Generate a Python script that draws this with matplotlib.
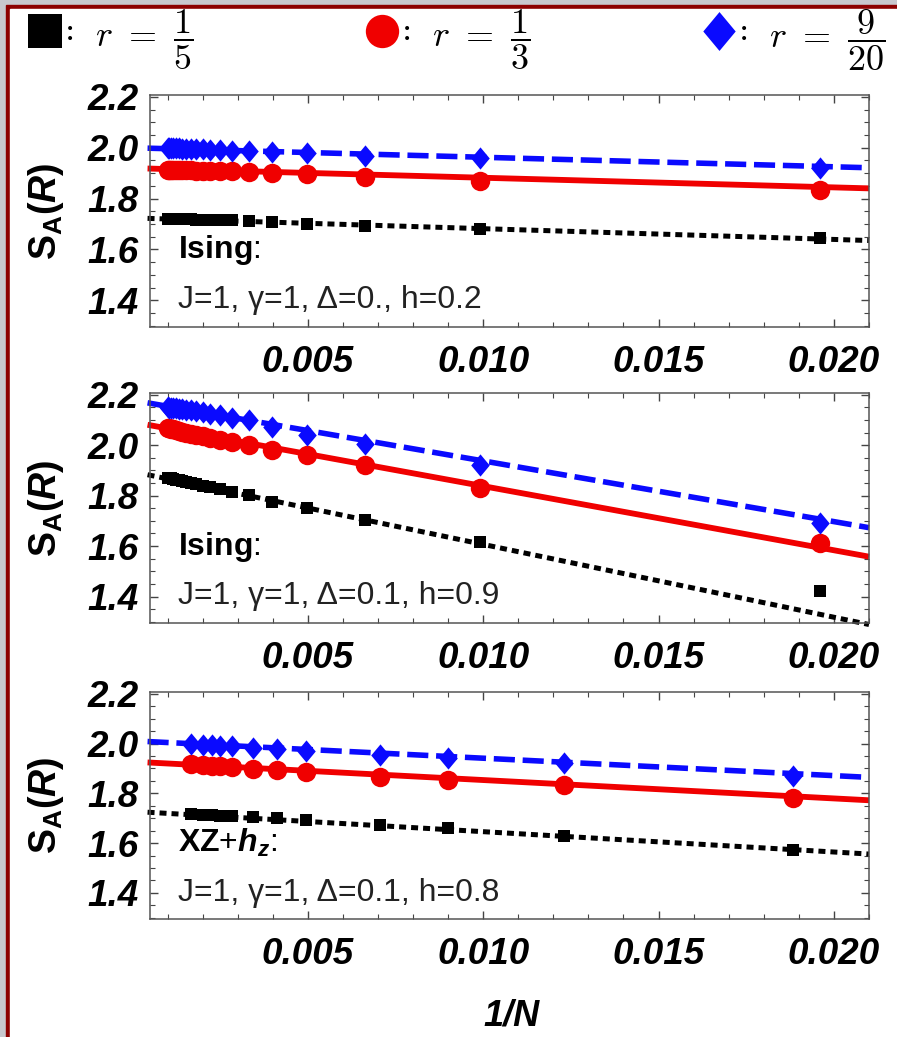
import matplotlib
matplotlib.use('Agg')
import matplotlib.pyplot as plt
from matplotlib.patches import Rectangle
from matplotlib.path import Path
from matplotlib.ticker import MultipleLocator, FormatStrFormatter

# 1/N positions
x_ising = [0.0196, 0.0099, 0.00662, 0.00498, 0.00398, 0.00332, 0.00285, 0.00249, 0.00222, 0.0020,
           0.00181, 0.00166, 0.00153, 0.00142, 0.00133, 0.00125, 0.00117, 0.00111, 0.00105, 0.0010]
x_xz = [0.01883, 0.0123, 0.009, 0.00707, 0.00495, 0.00413, 0.00345, 0.00285, 0.0025, 0.00228, 0.002, 0.00166]

# panel 1: Ising, h=0.2
p1_r15 = [1.643, 1.680, 1.694, 1.700, 1.708, 1.712, 1.714, 1.715, 1.716, 1.717,
          1.717, 1.718, 1.718, 1.718, 1.719, 1.719, 1.719, 1.720, 1.720, 1.720]
p1_r13 = [1.835, 1.870, 1.885, 1.898, 1.902, 1.905, 1.907, 1.908, 1.909, 1.910,
          1.910, 1.911, 1.911, 1.912, 1.912, 1.912, 1.913, 1.913, 1.913, 1.914]
p1_r920 = [1.920, 1.960, 1.968, 1.978, 1.982, 1.986, 1.988, 1.990, 1.992, 1.993,
           1.994, 1.995, 1.996, 1.996, 1.997, 1.997, 1.998, 1.998, 1.999, 1.999]

# panel 2: Ising, h=0.9
p2_r15 = [1.420, 1.618, 1.705, 1.752, 1.776, 1.804, 1.815, 1.826, 1.833, 1.840,
          1.846, 1.851, 1.855, 1.858, 1.861, 1.864, 1.866, 1.868, 1.870, 1.871]
p2_r13 = [1.614, 1.832, 1.923, 1.962, 1.982, 2.000, 2.012, 2.022, 2.030, 2.036,
          2.041, 2.046, 2.050, 2.054, 2.057, 2.060, 2.063, 2.065, 2.067, 2.070]
p2_r920 = [1.693, 1.923, 2.006, 2.042, 2.073, 2.098, 2.108, 2.118, 2.125, 2.130,
           2.135, 2.138, 2.141, 2.143, 2.145, 2.146, 2.147, 2.148, 2.149, 2.150]

# panel 3: XZ+h_z, h=0.8
p3_r15 = [1.572, 1.628, 1.660, 1.672, 1.692, 1.700, 1.704, 1.708, 1.710, 1.712, 1.714, 1.715]
p3_r13 = [1.780, 1.832, 1.852, 1.864, 1.884, 1.892, 1.896, 1.904, 1.908, 1.910, 1.914, 1.916]
p3_r920 = [1.868, 1.920, 1.940, 1.952, 1.968, 1.980, 1.984, 1.990, 1.992, 1.994, 1.996, 1.997]

# extrapolation lines (value at left end, value at right end)
fit_x = [0.00043, 0.021]
p1_fit = {'r15': [1.722, 1.635], 'r13': [1.918, 1.840], 'r920': [1.998, 1.921]}
p2_fit = {'r15': [1.883, 1.289], 'r13': [2.081, 1.558], 'r920': [2.168, 1.673]}
p3_fit = {'r15': [1.724, 1.556], 'r13': [1.924, 1.772], 'r920': [2.008, 1.864]}

models = [r'$\mathrm{Ising}$:', r'$\mathrm{Ising}$:', r'$\mathrm{XZ}$+$h_z$:']
params = ['J=1, γ=1, Δ=0., h=0.2', 'J=1, γ=1, Δ=0.1, h=0.9', 'J=1, γ=1, Δ=0.1, h=0.8']

plt.rcParams['font.family'] = ['Liberation Sans', 'DejaVu Sans']
plt.rcParams['mathtext.fontset'] = 'custom'
plt.rcParams['mathtext.rm'] = 'Liberation Sans:bold'
plt.rcParams['mathtext.it'] = 'Liberation Sans:bold:italic'
plt.rcParams['mathtext.bf'] = 'Liberation Sans:bold'

W, H = 897, 1037
fig = plt.figure(figsize=(W / 100, H / 100), dpi=100)

# frame of the screenshot
bg = fig.add_axes([0, 0, 1, 1], zorder=0)
bg.set_xlim(0, W)
bg.set_ylim(H, 0)
bg.axis('off')
bg.add_patch(Rectangle((0, 0), W, H, color='#c8c8ce'))
bg.add_patch(Rectangle((6, 5), W, H, color='#8c0000'))
bg.add_patch(Rectangle((10, 9), W, H, color='white'))

diamond = Path([(-1, 0), (0, 1.2), (1, 0), (0, -1.2), (-1, 0)],
               [Path.MOVETO, Path.LINETO, Path.LINETO, Path.LINETO, Path.CLOSEPOLY])

styles = {
    'r15': dict(color='black', marker='s', ms=9, ls=(0, (1.4, 1.0)), lw=3.6),
    'r13': dict(color='#f00000', marker='o', ms=14, ls='-', lw=4.2),
    'r920': dict(color='#0a0aff', marker=diamond, ms=16, ls=(0, (3.8, 1.4)), lw=4.0),
}

# legend row on top
leg = [('r15', r'$r\ =\ \dfrac{1}{5}$', 45), ('r13', r'$r\ =\ \dfrac{1}{3}$', 382),
       ('r920', r'$r\ =\ \dfrac{9}{20}$', 719)]
for key, lab, xm in leg:
    st = styles[key]
    ms = 24 if key != 'r920' else 28
    bg.plot([xm], [31], marker=st['marker'], ms=ms, color=st['color'], mew=0, ls='none')
    bg.text(xm + 20, 40, ':', fontsize=22, va='baseline', ha='left', family='DejaVu Serif')
    bg.text(xm + 50, 40, lab, fontsize=26, math_fontfamily='cm', va='center', ha='left')

tops = [95, 393, 692]
bots = [327, 623, 919]
panels = [(x_ising, p1_r15, p1_r13, p1_r920, p1_fit),
          (x_ising, p2_r15, p2_r13, p2_r920, p2_fit),
          (x_xz, p3_r15, p3_r13, p3_r920, p3_fit)]

tickfont = dict(family='Liberation Sans', weight='bold', style='italic', size=26.5)

for i, (xs, a, b, c, fit) in enumerate(panels):
    ax = fig.add_axes([150 / W, 1 - bots[i] / H, 719 / W, (bots[i] - tops[i]) / H], zorder=1)
    for key, ys in (('r15', a), ('r13', b), ('r920', c)):
        st = styles[key]
        ax.plot(fit_x, fit[key], color=st['color'], ls=st['ls'], lw=st['lw'],
                solid_capstyle='butt', dash_capstyle='butt', clip_on=False, zorder=2)
        ax.plot(xs, ys, ls='none', marker=st['marker'], ms=st['ms'], color=st['color'],
                mew=0, zorder=3)
    ax.set_xlim(0.0005, 0.021)
    ax.set_ylim(1.295, 2.207)
    ax.xaxis.set_major_locator(MultipleLocator(0.005))
    ax.xaxis.set_minor_locator(MultipleLocator(0.001))
    ax.yaxis.set_major_locator(MultipleLocator(0.2))
    ax.yaxis.set_minor_locator(MultipleLocator(0.05))
    ax.xaxis.set_major_formatter(FormatStrFormatter('%.3f'))
    ax.yaxis.set_major_formatter(FormatStrFormatter('%.1f'))
    ax.tick_params(which='both', direction='in', top=True, right=True, color='#444444')
    ax.tick_params(which='major', length=6, width=1)
    ax.tick_params(which='minor', length=3.5, width=0.8)
    ax.tick_params(axis='x', pad=13)
    ax.tick_params(axis='y', pad=8)
    for lbl in ax.get_xticklabels() + ax.get_yticklabels():
        lbl.set_fontproperties(tickfont)
    for sp in ax.spines.values():
        sp.set_color('#555555')
        sp.set_linewidth(1.1)
    ax.text(0.00131, 1.566, models[i], fontsize=23, va='baseline', ha='left', zorder=4)
    ax.text(0.00131, 1.369, params[i], fontsize=23, va='baseline', ha='left', color='#222222',
            zorder=4)
    fig.text(46 / W, 1 - (tops[i] + bots[i]) / 2 / H, r'$\mathrm{S}_{\mathrm{A}}(R)$',
             rotation=90, fontsize=27, ha='center', va='center')

fig.text(512 / W, 1 - 1016 / H, '1/N', fontsize=26, weight='bold', style='italic',
         ha='center', va='center')

fig.savefig('out.png', dpi=100)
